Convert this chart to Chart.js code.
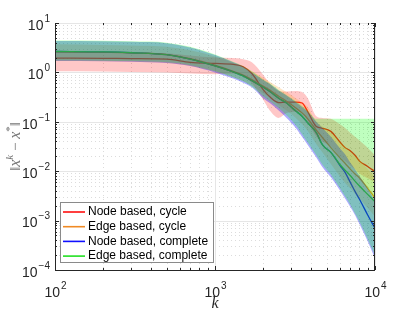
<!DOCTYPE html>
<html>
<head>
<meta charset="utf-8">
<script src="https://cdn.jsdelivr.net/npm/chart.js@4.4.0/dist/chart.umd.min.js"></script>
<style>
  html, body { margin: 0; padding: 0; background: #fff; }
  #wrap { width: 415px; height: 312px; }
</style>
</head>
<body>
<div id="wrap"><canvas id="errorChart" width="415" height="312"></canvas></div>
<script>
// iteration counts k (x axis)
const iterations = [100, 200, 300, 500, 700, 1000, 1300, 1500, 1700, 2000, 2200, 2500, 2800, 3200, 3500, 3800, 4300, 4700, 5300, 6000, 6500, 7000, 7500, 8000, 9000, 10000];

// Node based, cycle
const nodeCycleMean = [1.95, 1.93, 1.9, 1.86, 1.6, 1.52, 1.45, 1.3, 0.95, 0.45, 0.32, 0.245, 0.25, 0.25, 0.24, 0.16, 0.08, 0.074, 0.064, 0.04, 0.03, 0.026, 0.021, 0.016, 0.0125, 0.0098];
const nodeCycleLow  = [1.05, 1.04, 1.02, 1.0, 0.95, 0.92, 0.95, 0.85, 0.6, 0.28, 0.17, 0.12, 0.15, 0.16, 0.15, 0.1, 0.05, 0.04, 0.032, 0.02, 0.016, 0.013, 0.011, 0.009, 0.0072, 0.006];
const nodeCycleHigh = [2.6, 2.55, 2.5, 2.45, 2.2, 2.0, 1.95, 1.85, 1.6, 0.9, 0.6, 0.42, 0.41, 0.42, 0.4, 0.3, 0.13, 0.12, 0.115, 0.09, 0.075, 0.06, 0.05, 0.042, 0.03, 0.021];

// Edge based, cycle
const edgeCycleMean = [2.6, 2.55, 2.5, 2.3, 1.9, 1.4, 1.05, 0.88, 0.72, 0.53, 0.44, 0.33, 0.26, 0.19, 0.15, 0.115, 0.068, 0.048, 0.03, 0.019, 0.0145, 0.011, 0.0088, 0.0073, 0.0045, 0.0029];
const edgeCycleLow  = [1.7, 1.68, 1.65, 1.55, 1.35, 1.05, 0.8, 0.67, 0.54, 0.38, 0.31, 0.22, 0.17, 0.12, 0.09, 0.065, 0.035, 0.024, 0.014, 0.008, 0.0058, 0.0045, 0.0035, 0.0028, 0.0018, 0.0012];
const edgeCycleHigh = [3.7, 3.6, 3.5, 3.3, 2.8, 2.1, 1.55, 1.3, 1.05, 0.78, 0.65, 0.5, 0.4, 0.3, 0.25, 0.2, 0.1, 0.08, 0.06, 0.04, 0.032, 0.025, 0.02, 0.017, 0.011, 0.0075];

// Node based, complete
const nodeCompleteMean = [2.65, 2.6, 2.5, 2.28, 1.85, 1.35, 1.02, 0.85, 0.68, 0.5, 0.41, 0.3, 0.24, 0.165, 0.13, 0.095, 0.06, 0.034, 0.024, 0.0135, 0.0095, 0.006, 0.0039, 0.0027, 0.0013, 0.0007];
const nodeCompleteLow  = [1.7, 1.68, 1.65, 1.55, 1.35, 1.0, 0.75, 0.62, 0.5, 0.3, 0.24, 0.17, 0.12, 0.075, 0.05, 0.034, 0.019, 0.012, 0.0075, 0.0042, 0.0028, 0.0019, 0.0013, 0.00085, 0.00038, 0.00017];
const nodeCompleteHigh = [4.3, 4.25, 4.15, 3.9, 3.2, 2.25, 1.6, 1.3, 1.0, 0.7, 0.58, 0.43, 0.34, 0.25, 0.2, 0.16, 0.1, 0.075, 0.05, 0.03, 0.022, 0.015, 0.011, 0.008, 0.0045, 0.0025];

// Edge based, complete
const edgeCompleteMean = [2.65, 2.6, 2.5, 2.28, 1.85, 1.35, 1.02, 0.85, 0.68, 0.5, 0.41, 0.3, 0.24, 0.165, 0.13, 0.095, 0.06, 0.034, 0.024, 0.014, 0.0105, 0.0082, 0.0063, 0.005, 0.0034, 0.0024];
const edgeCompleteLow  = [1.75, 1.73, 1.7, 1.6, 1.4, 1.05, 0.8, 0.66, 0.52, 0.33, 0.26, 0.19, 0.135, 0.085, 0.056, 0.038, 0.021, 0.0135, 0.0085, 0.0047, 0.0031, 0.0021, 0.0014, 0.00095, 0.00042, 0.0002];
const edgeCompleteHigh = [4.4, 4.35, 4.25, 4.0, 3.3, 2.3, 1.65, 1.35, 1.05, 0.72, 0.6, 0.44, 0.35, 0.26, 0.21, 0.17, 0.115, 0.115, 0.115, 0.115, 0.115, 0.115, 0.115, 0.115, 0.115, 0.115];

// tick labels (decade exponents)
const xTickExponents = [2, 3, 4];
const yTickExponents = [1, 0, -1, -2, -3, -4];

const legendLabels = ["Node based, cycle", "Edge based, cycle", "Node based, complete", "Edge based, complete"];
const lineColors = ["#ff1010", "#f08a24", "#1010ff", "#22e022"];
const bandColors = ["rgba(255,0,0,0.22)", "rgba(255,140,0,0.22)", "rgba(0,0,255,0.33)", "rgba(0,255,0,0.25)"];

const labelFont = "'Liberation Sans', Arial, Helvetica, sans-serif";
const mathFont = "'Liberation Serif', 'Times New Roman', serif";

function toPoints(values) {
    return iterations.map((k, i) => ({ x: k, y: values[i] }));
}

const means = [nodeCycleMean, edgeCycleMean, nodeCompleteMean, edgeCompleteMean];
const lows = [nodeCycleLow, edgeCycleLow, nodeCompleteLow, edgeCompleteLow];
const highs = [nodeCycleHigh, edgeCycleHigh, nodeCompleteHigh, edgeCompleteHigh];

// lines first, then all shaded bands on top (like the original figure)
const datasets = [];
means.forEach((m, i) => {
    datasets.push({
        label: legendLabels[i],
        data: toPoints(m),
        borderColor: lineColors[i],
        borderWidth: 1.3,
        pointRadius: 0,
        fill: false,
        cubicInterpolationMode: "monotone",
        order: 100 - i
    });
});
lows.forEach((low, i) => {
    datasets.push({
        data: toPoints(low),
        borderWidth: 0,
        pointRadius: 0,
        fill: false,
        cubicInterpolationMode: "monotone",
        order: 50 - 2 * i
    });
    datasets.push({
        data: toPoints(highs[i]),
        borderWidth: 0,
        pointRadius: 0,
        fill: "-1",
        backgroundColor: bandColors[i],
        cubicInterpolationMode: "monotone",
        order: 49 - 2 * i
    });
});

// draws "10" with a raised exponent
function drawPower(ctx, exp, x, y, align) {
    const base = "10", sup = String(exp).replace("-", "\u2212");
    ctx.font = "14px " + labelFont;
    const wb = ctx.measureText(base).width;
    ctx.font = "10px " + labelFont;
    const ws = ctx.measureText(sup).width;
    let left = align === "right" ? x - wb - ws - 1 : x - (wb + ws) / 2;
    ctx.textBaseline = "middle";
    ctx.textAlign = "left";
    ctx.font = "14px " + labelFont;
    ctx.fillText(base, left, y + 3);
    ctx.font = "10px " + labelFont;
    ctx.fillText(sup, left + wb + 1, y - 4);
}

const gridPlugin = {
    id: "matlabGrid",
    beforeDatasetsDraw(chart) {
        const { ctx, chartArea: a, scales: { x, y } } = chart;
        ctx.save();
        ctx.lineWidth = 1;
        // minor dotted grid
        ctx.strokeStyle = "#dcdcdc";
        ctx.setLineDash([1, 3]);
        for (let d = 2; d < 4; d++) {
            for (let m = 2; m <= 9; m++) {
                const px = Math.round(x.getPixelForValue(m * Math.pow(10, d))) + 0.5;
                ctx.beginPath(); ctx.moveTo(px, a.top); ctx.lineTo(px, a.bottom); ctx.stroke();
            }
        }
        for (let d = -4; d < 1; d++) {
            for (let m = 2; m <= 9; m++) {
                const py = Math.round(y.getPixelForValue(m * Math.pow(10, d))) + 0.5;
                ctx.beginPath(); ctx.moveTo(a.left, py); ctx.lineTo(a.right, py); ctx.stroke();
            }
        }
        // major solid grid
        ctx.setLineDash([]);
        ctx.strokeStyle = "#e6e6e6";
        xTickExponents.forEach(e => {
            const px = Math.round(x.getPixelForValue(Math.pow(10, e))) + 0.5;
            ctx.beginPath(); ctx.moveTo(px, a.top); ctx.lineTo(px, a.bottom); ctx.stroke();
        });
        yTickExponents.forEach(e => {
            const py = Math.round(y.getPixelForValue(Math.pow(10, e))) + 0.5;
            ctx.beginPath(); ctx.moveTo(a.left, py); ctx.lineTo(a.right, py); ctx.stroke();
        });
        ctx.restore();
    },
    afterDraw(chart) {
        const { ctx, chartArea: a, scales: { x, y } } = chart;
        ctx.save();
        ctx.strokeStyle = "#262626";
        ctx.lineWidth = 1;
        // axes box (left, bottom, right)
        ctx.beginPath();
        ctx.moveTo(a.left + 0.5, a.top); ctx.lineTo(a.left + 0.5, a.bottom + 0.5);
        ctx.lineTo(a.right - 0.5, a.bottom + 0.5); ctx.lineTo(a.right - 0.5, a.top);
        ctx.stroke();
        // tick marks pointing inward
        ctx.beginPath();
        for (let d = 2; d <= 4; d++) {
            for (let m = 1; m <= 9; m++) {
                const v = m * Math.pow(10, d);
                if (v > 10000) break;
                const len = m === 1 ? 4 : 2;
                const px = Math.round(x.getPixelForValue(v)) + 0.5;
                ctx.moveTo(px, a.bottom); ctx.lineTo(px, a.bottom - len);
                ctx.moveTo(px, a.top); ctx.lineTo(px, a.top + len);
            }
        }
        for (let d = -4; d <= 1; d++) {
            for (let m = 1; m <= 9; m++) {
                const v = m * Math.pow(10, d);
                if (v > 10) break;
                const len = m === 1 ? 4 : 2;
                const py = Math.round(y.getPixelForValue(v)) + 0.5;
                ctx.moveTo(a.left, py); ctx.lineTo(a.left + len, py);
                ctx.moveTo(a.right, py); ctx.lineTo(a.right - len, py);
            }
        }
        ctx.stroke();

        // tick labels
        ctx.fillStyle = "#262626";
        yTickExponents.forEach(e => drawPower(ctx, e, a.left - 5, y.getPixelForValue(Math.pow(10, e)), "right"));
        xTickExponents.forEach(e => drawPower(ctx, e, x.getPixelForValue(Math.pow(10, e)), a.bottom + 20, "center"));

        // x axis title
        ctx.font = "italic 16px " + mathFont;
        ctx.textAlign = "center";
        ctx.textBaseline = "middle";
        ctx.fillText("k", (a.left + a.right) / 2, 304);

        // y axis title: ||x^k - x^*||
        const parts = [
            { t: "\u2016", f: "15px " + mathFont, dy: 0 },
            { t: "x", f: "italic 16px " + mathFont, dy: 0 },
            { t: "k", f: "italic 11px " + mathFont, dy: -7 },
            { t: " \u2212 ", f: "15px " + mathFont, dy: 0 },
            { t: "x", f: "italic 16px " + mathFont, dy: 0 },
            { t: "*", f: "11px " + mathFont, dy: -7 },
            { t: "\u2016", f: "15px " + mathFont, dy: 0 }
        ];
        let total = 0;
        parts.forEach(p => { ctx.font = p.f; p.w = ctx.measureText(p.t).width; total += p.w; });
        ctx.translate(20, (a.top + a.bottom) / 2);
        ctx.rotate(-Math.PI / 2);
        ctx.fillStyle = "#777";
        ctx.textAlign = "left";
        ctx.textBaseline = "alphabetic";
        let cx = -total / 2;
        parts.forEach(p => { ctx.font = p.f; ctx.fillText(p.t, cx, p.dy); cx += p.w; });
        ctx.restore();

        // legend box
        ctx.save();
        const lx = 60, ly = 202, lw = 153, lh = 60;
        ctx.fillStyle = "#fff";
        ctx.fillRect(lx, ly, lw, lh);
        ctx.strokeStyle = "#8a8a8a";
        ctx.lineWidth = 1;
        ctx.strokeRect(lx + 0.5, ly + 0.5, lw, lh);
        ctx.font = "12px " + labelFont;
        ctx.textBaseline = "middle";
        ctx.textAlign = "left";
        legendLabels.forEach((lab, i) => {
            const ry = ly + 10 + i * 14.7;
            ctx.strokeStyle = lineColors[i];
            ctx.lineWidth = 1.6;
            ctx.beginPath(); ctx.moveTo(lx + 3, ry); ctx.lineTo(lx + 25, ry); ctx.stroke();
            ctx.fillStyle = "#000";
            ctx.fillText(lab, lx + 28, ry);
        });
        ctx.restore();
    }
};

const canvas = document.getElementById("errorChart");
const errorChart = new Chart(canvas.getContext("2d"), {
    type: "line",
    data: { datasets: datasets },
    options: {
        responsive: false,
        animation: false,
        layout: { padding: { left: 55, right: 40, top: 23, bottom: 42 } },
        plugins: {
            legend: { display: false },
            tooltip: { enabled: false },
            filler: { drawTime: "beforeDatasetDraw" }
        },
        scales: {
            x: {
                type: "logarithmic", min: 100, max: 10000,
                ticks: { display: false },
                grid: { display: false, drawTicks: false },
                border: { display: false }
            },
            y: {
                type: "logarithmic", min: 1e-4, max: 10,
                ticks: { display: false },
                grid: { display: false, drawTicks: false },
                border: { display: false }
            }
        }
    },
    plugins: [gridPlugin]
});
</script>
</body>
</html>
